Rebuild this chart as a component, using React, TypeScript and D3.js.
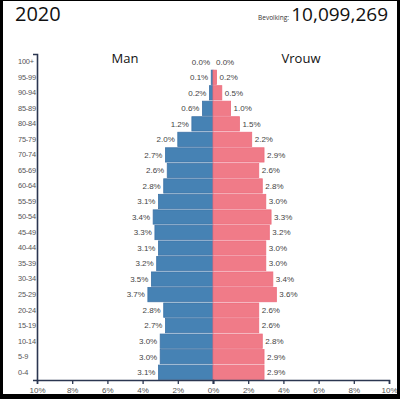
import React, { useEffect, useRef } from "react";
import * as d3 from "d3";

const ageGroups = ["100+", "95-99", "90-94", "85-89", "80-84", "75-79", "70-74", "65-69", "60-64", "55-59", "50-54", "45-49", "40-44", "35-39", "30-34", "25-29", "20-24", "15-19", "10-14", "5-9", "0-4"];
const maleValues = [0.0, 0.1, 0.2, 0.6, 1.2, 2.0, 2.7, 2.6, 2.8, 3.1, 3.4, 3.3, 3.1, 3.2, 3.5, 3.7, 2.8, 2.7, 3.0, 3.0, 3.1];
const femaleValues = [0.0, 0.2, 0.5, 1.0, 1.5, 2.2, 2.9, 2.6, 2.8, 3.0, 3.3, 3.2, 3.0, 3.0, 3.4, 3.6, 2.6, 2.6, 2.8, 2.9, 2.9];
const leftTicks = [2, 4, 6, 8, 10];
const rightTicks = [0, 2, 4, 6, 8, 10];
const yearLabel = "2020";
const populationLabel = "10,099,269";

const W = 400;
const H = 399;
const center = 213;
const leftEdge = 37;
const rightEdge = 389;
const top = 54;
const bottom = 380;

export default function App() {
  const leftAxisRef = useRef<SVGGElement>(null);
  const rightAxisRef = useRef<SVGGElement>(null);
  const yAxisRef = useRef<SVGGElement>(null);

  const xLeft = d3.scaleLinear().domain([0, 10]).range([center, leftEdge]);
  const xRight = d3.scaleLinear().domain([0, 10]).range([center, rightEdge]);
  const y = d3.scaleBand().domain(ageGroups).range([top, bottom]).paddingInner(0.08).paddingOuter(0.04);

  useEffect(() => {
    const fmt = (d: any) => d + "%";
    const styleAxis = (g: any) => {
      g.select(".domain").attr("stroke", "#2b3650").attr("stroke-width", 1.6);
      g.selectAll(".tick line").attr("stroke", "#2b3650").attr("stroke-width", 1.3);
      g.selectAll(".tick text").attr("fill", "#555").attr("font-size", 8).attr("font-family", "Liberation Sans, Arial, sans-serif");
    };
    const la = d3.select(leftAxisRef.current);
    la.call(d3.axisBottom(xLeft).tickValues(leftTicks).tickFormat(fmt).tickSizeInner(4).tickSizeOuter(4) as any);
    styleAxis(la);
    const ra = d3.select(rightAxisRef.current);
    ra.call(d3.axisBottom(xRight).tickValues(rightTicks).tickFormat(fmt).tickSizeInner(4).tickSizeOuter(4) as any);
    styleAxis(ra);
    const ya = d3.select(yAxisRef.current);
    ya.call(d3.axisLeft(y).tickSizeInner(0).tickSizeOuter(4) as any);
    styleAxis(ya);
    ya.selectAll(".tick text").attr("text-anchor", "start").attr("x", 18 - leftEdge).attr("dy", "0.32em")
      .attr("font-size", 7.4).attr("letter-spacing", -0.2);
  }, []);

  const bh = y.bandwidth();
  const titleFont = "Open Sans, Noto Sans, sans-serif";

  return (
    <svg width={W} height={H} style={{ display: "block", position: "absolute", left: 0, top: 0, background: "#fff" }}>
      <rect x={0} y={0} width={W} height={H} fill="#fff" />
      <text x={15} y={21} fontSize={20} fontFamily={titleFont} fill="#111">{yearLabel}</text>
      <text x={388} y={21} fontSize={19} textAnchor="end" fontFamily={titleFont} fill="#111">{populationLabel}</text>
      <text x={289} y={20} fontSize={6.5} textAnchor="end" fontFamily={titleFont} fill="#333">Bevolking:</text>
      <text x={(leftEdge + center) / 2} y={63} fontSize={13} textAnchor="middle" fontFamily={titleFont} fill="#111">Man</text>
      <text x={(rightEdge + center) / 2} y={63} fontSize={13} textAnchor="middle" fontFamily={titleFont} fill="#111">Vrouw</text>

      {ageGroups.map((g, i) => (
        <rect key={"m" + g} x={xLeft(maleValues[i])} y={y(g)} width={center - xLeft(maleValues[i])} height={bh}
          fill="#4682b4" stroke="#3d73a6" strokeWidth={0.8} />
      ))}
      {ageGroups.map((g, i) => (
        <rect key={"f" + g} x={center} y={y(g)} width={xRight(femaleValues[i]) - center} height={bh}
          fill="#f07b88" stroke="#ec6d7e" strokeWidth={0.8} />
      ))}
      {ageGroups.map((g, i) => (
        <text key={"ml" + g} x={xLeft(maleValues[i]) - 3} y={(y(g) as number) + bh / 2} dy="0.35em" textAnchor="end"
          fontSize={8} fontFamily="Liberation Sans, Arial, sans-serif" fill="#444">{maleValues[i].toFixed(1) + "%"}</text>
      ))}
      {ageGroups.map((g, i) => (
        <text key={"fl" + g} x={xRight(femaleValues[i]) + 3} y={(y(g) as number) + bh / 2} dy="0.35em" textAnchor="start"
          fontSize={8} fontFamily="Liberation Sans, Arial, sans-serif" fill="#444">{femaleValues[i].toFixed(1) + "%"}</text>
      ))}

      <g ref={yAxisRef} transform={`translate(${leftEdge},0)`} />
      <g ref={leftAxisRef} transform={`translate(0,${bottom})`} />
      <g ref={rightAxisRef} transform={`translate(0,${bottom})`} />

      <rect x={0} y={0} width={3} height={H} fill="#000" />
      <rect x={W - 3} y={0} width={3} height={H} fill="#000" />
      <rect x={0} y={0} width={W} height={1} fill="#000" />
      <rect x={0} y={H - 5} width={W} height={5} fill="#000" />
    </svg>
  );
}
